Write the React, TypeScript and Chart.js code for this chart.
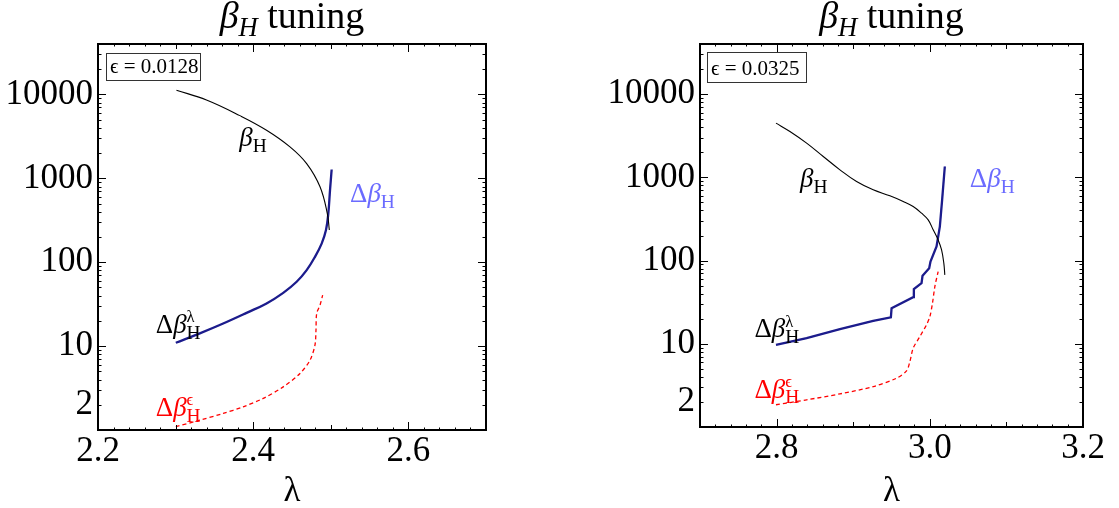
import React, { useEffect, useRef } from "react";
import { Chart, registerables } from "chart.js";

Chart.register(...registerables);

const SERIF = "'Liberation Serif', 'DejaVu Serif', 'Times New Roman', serif";

// ---------- Left panel (epsilon = 0.0128) ----------
const leftBetaHLambda = [2.3011, 2.3398, 2.3828, 2.4172, 2.4474, 2.4689, 2.4861, 2.4955, 2.4981];
const leftBetaHValue = [11250, 8600, 5600, 3750, 2375, 1500, 793, 381, 242];
const leftDeltaLamLambda = [2.3003, 2.3312, 2.3613, 2.3914, 2.4172, 2.4387, 2.456, 2.4689, 2.4796, 2.4882, 2.4938, 2.4968, 2.499, 2.5011];
const leftDeltaLamValue = [10.96, 14.2, 18.6, 24.9, 32.3, 43.2, 58.5, 80.5, 116, 167, 242, 381, 723, 1276];
const leftDeltaEpsLambda = [2.3003, 2.3312, 2.3613, 2.3871, 2.4129, 2.4387, 2.4603, 2.4732, 2.4796, 2.4809, 2.4818, 2.4861, 2.4895];
const leftDeltaEpsValue = [1.094, 1.31, 1.575, 1.89, 2.38, 3.27, 4.72, 6.8, 10.3, 15.5, 24.5, 30.8, 40.5];

// ---------- Right panel (epsilon = 0.0325) ----------
const rightBetaHLambda = [2.7992, 2.8174, 2.8392, 2.8609, 2.8827, 2.9044, 2.9261, 2.9479, 2.9653, 2.9783, 2.9892, 2.9979, 3.0044, 3.0109, 3.0153, 3.0183, 3.0196];
const rightBetaHValue = [4480, 3555, 2575, 1780, 1231, 891, 708, 600, 513, 446, 371, 308, 234, 177, 135, 93, 67.3];
const rightDeltaLamLambda = [2.7992, 2.8392, 2.8827, 2.9261, 2.9492, 2.9501, 2.9783, 2.9792, 2.9892, 2.9905, 2.9992, 3.0009, 3.0088, 3.0131, 3.0161, 3.0196];
const rightDeltaLamValue = [9.7, 11.7, 15.0, 18.8, 20.8, 26.8, 36.3, 45.3, 53.5, 65.5, 81, 97.3, 148, 256, 537, 1350];
const rightDeltaEpsLambda = [2.7992, 2.8392, 2.8827, 2.9261, 2.9566, 2.9696, 2.974, 2.9783, 2.987, 2.9957, 3.0001, 3.0035, 3.0066, 3.0109];
const rightDeltaEpsValue = [1.85, 2.12, 2.5, 3.06, 3.86, 4.72, 6.1, 8.85, 12.2, 16.9, 21.2, 30.8, 48.7, 73.8];

// ---------- Axes ----------
const yTickValues = [2, 10, 100, 1000, 10000];
const yMajorMarks = [1, 10, 100, 1000, 10000];
const yRange = [1, 40000];
const leftXTickValues = [2.2, 2.4, 2.6];
const rightXTickValues = [2.8, 3.0, 3.2];
const leftXRange = [2.2, 2.7];
const rightXRange = [2.7, 3.2];
const leftEpsilon = "0.0128";
const rightEpsilon = "0.0325";

type Seg = { t: string; it?: boolean; s?: number; dy?: number; stack?: boolean };

const titleSegs: Seg[] = [
  { t: "β", it: true },
  { t: "H", it: true, s: 0.7, dy: 0.22 },
  { t: " tuning" },
];
const betaSegs: Seg[] = [{ t: "β", it: true }, { t: "H", s: 0.72, dy: 0.22 }];
const deltaSegs: Seg[] = [{ t: "Δ" }, { t: "β", it: true }, { t: "H", s: 0.72, dy: 0.22 }];
const deltaLamSegs: Seg[] = [
  { t: "Δ" },
  { t: "β", it: true },
  { t: "H", s: 0.72, dy: 0.22 },
  { t: "λ", s: 0.62, dy: -0.4, stack: true },
];
const deltaEpsSegs: Seg[] = [
  { t: "Δ" },
  { t: "β", it: true },
  { t: "H", s: 0.72, dy: 0.22 },
  { t: "ϵ", s: 0.62, dy: -0.4, stack: true },
];

function layoutRich(ctx: CanvasRenderingContext2D, segs: Seg[], size: number, draw: boolean, x: number, y: number) {
  let cx = x;
  let prevStart = x;
  for (const seg of segs) {
    const fs = size * (seg.s ?? 1);
    ctx.font = `${seg.it ? "italic " : ""}${fs}px ${SERIF}`;
    const w = ctx.measureText(seg.t).width;
    const sx = seg.stack ? prevStart : cx;
    if (draw) ctx.fillText(seg.t, sx, y + (seg.dy ?? 0) * size);
    if (seg.stack) {
      cx = Math.max(cx, sx + w);
    } else {
      prevStart = sx;
      cx = sx + w;
    }
  }
  return cx - x;
}

function drawRich(ctx: CanvasRenderingContext2D, segs: Seg[], x: number, y: number, size: number, color: string, align = "left") {
  ctx.save();
  ctx.fillStyle = color;
  ctx.textAlign = "left";
  ctx.textBaseline = "alphabetic";
  let sx = x;
  if (align === "center") sx = x - layoutRich(ctx, segs, size, false, 0, 0) / 2;
  layoutRich(ctx, segs, size, true, sx, y);
  ctx.restore();
}

type LabelCfg = { segs: Seg[]; x: number; y: number; size: number; color: string };
type PanelCfg = {
  key: string;
  xRange: number[];
  xTicks: number[];
  eps: string;
  box: number[]; // dx, dy, w, h relative to chart area
  labels: LabelCfg[];
  titleY: number;
  xLabelY: number;
};

function makePanelPlugin(cfg: PanelCfg) {
  return {
    id: "panel" + cfg.key,
    afterDraw(chart: any) {
      const { ctx, chartArea: a } = chart;
      const xs = chart.scales.x;
      const ys = chart.scales.y;
      ctx.save();
      ctx.strokeStyle = "#000";
      ctx.lineWidth = 1;
      const vt = (v: number, len: number) => {
        const p = Math.round(xs.getPixelForValue(v)) + 0.5;
        ctx.beginPath();
        ctx.moveTo(p, a.bottom);
        ctx.lineTo(p, a.bottom - len);
        ctx.moveTo(p, a.top);
        ctx.lineTo(p, a.top + len);
        ctx.stroke();
      };
      const ht = (v: number, len: number) => {
        const p = Math.round(ys.getPixelForValue(v)) + 0.5;
        ctx.beginPath();
        ctx.moveTo(a.left, p);
        ctx.lineTo(a.left + len, p);
        ctx.moveTo(a.right, p);
        ctx.lineTo(a.right - len, p);
        ctx.stroke();
      };
      const [x0, x1] = cfg.xRange;
      for (let i = 0; ; i++) {
        const v = x0 + i * 0.02;
        if (v > x1 + 1e-9) break;
        vt(v, 2.5);
      }
      for (let i = 0; ; i++) {
        const v = x0 + i * 0.1;
        if (v > x1 + 1e-9) break;
        vt(v, 5);
      }
      cfg.xTicks.forEach((v) => vt(v, 8));
      for (let d = 0; d <= 4; d++) {
        for (let m = 2; m <= 9; m++) {
          const v = m * Math.pow(10, d);
          if (v < yRange[1]) ht(v, 3.5);
        }
      }
      yMajorMarks.forEach((v) => ht(v, 8));

      // frame
      ctx.lineWidth = 2;
      ctx.strokeRect(a.left, a.top, a.right - a.left, a.bottom - a.top);

      // epsilon box
      const [bx, by, bw, bh] = cfg.box;
      ctx.lineWidth = 1;
      ctx.strokeStyle = "#333";
      ctx.strokeRect(Math.round(a.left + bx) + 0.5, Math.round(a.top + by) + 0.5, bw, bh);
      ctx.fillStyle = "#000";
      ctx.font = `21px ${SERIF}`;
      ctx.textAlign = "left";
      ctx.textBaseline = "alphabetic";
      ctx.fillText("ϵ = " + cfg.eps, a.left + bx + 4, a.top + by + bh - 7);

      // curve labels
      cfg.labels.forEach((l) => {
        drawRich(ctx, l.segs, xs.getPixelForValue(l.x), ys.getPixelForValue(l.y), l.size, l.color);
      });

      // title and x label
      const cx = (a.left + a.right) / 2;
      drawRich(ctx, titleSegs, cx, cfg.titleY, 38, "#000", "center");
      ctx.fillStyle = "#000";
      ctx.font = `35px ${SERIF}`;
      ctx.textAlign = "center";
      ctx.fillText("λ", cx, cfg.xLabelY);
      ctx.restore();
    },
  };
}

function pts(xs: number[], ys: number[]) {
  return xs.map((x, i) => ({ x, y: ys[i] }));
}

type PanelProps = {
  left: number;
  width: number;
  yAxisWidth: number;
  xAxisHeight: number;
  rightPad: number;
  betaX: number[];
  betaY: number[];
  lamX: number[];
  lamY: number[];
  epsX: number[];
  epsY: number[];
  lamTension: number;
  cfg: PanelCfg;
};

function Panel(p: PanelProps) {
  const ref = useRef<HTMLCanvasElement>(null);
  useEffect(() => {
    if (!ref.current) return;
    const chart = new Chart(ref.current, {
      type: "scatter",
      data: {
        datasets: [
          {
            label: "betaH",
            data: pts(p.betaX, p.betaY),
            showLine: true,
            borderColor: "#000",
            borderWidth: 1.1,
            pointRadius: 0,
            tension: 0.4,
          },
          {
            label: "deltaLambda",
            data: pts(p.lamX, p.lamY),
            showLine: true,
            borderColor: "#1c1c8c",
            borderWidth: 2.3,
            pointRadius: 0,
            tension: p.lamTension,
          },
          {
            label: "deltaTotal",
            data: pts(p.lamX, p.lamY),
            showLine: true,
            borderColor: "#9a9aff",
            borderWidth: 1.2,
            borderDash: [4, 3],
            pointRadius: 0,
            tension: p.lamTension,
          },
          {
            label: "deltaEps",
            data: pts(p.epsX, p.epsY),
            showLine: true,
            borderColor: "#ff0000",
            borderWidth: 1.3,
            borderDash: [4, 3],
            pointRadius: 0,
            tension: 0.3,
          },
        ],
      },
      options: {
        animation: false,
        responsive: false,
        devicePixelRatio: 1,
        layout: { padding: { left: 0, right: p.rightPad, top: 44, bottom: 0 } },
        plugins: { legend: { display: false }, tooltip: { enabled: false } },
        scales: {
          x: {
            type: "linear",
            min: p.cfg.xRange[0],
            max: p.cfg.xRange[1],
            grid: { display: false, drawTicks: false },
            border: { display: false },
            afterBuildTicks: (s: any) => {
              s.ticks = p.cfg.xTicks.map((v) => ({ value: v }));
            },
            afterFit: (s: any) => {
              s.height = p.xAxisHeight;
            },
            ticks: {
              autoSkip: false,
              maxRotation: 0,
              padding: 1,
              color: "#000",
              font: { family: SERIF, size: 35 },
              callback: (v: any) => Number(v).toFixed(1),
            },
          },
          y: {
            type: "logarithmic",
            min: yRange[0],
            max: yRange[1],
            grid: { display: false, drawTicks: false },
            border: { display: false },
            afterBuildTicks: (s: any) => {
              s.ticks = yTickValues.map((v) => ({ value: v }));
            },
            afterFit: (s: any) => {
              s.width = p.yAxisWidth;
            },
            ticks: {
              autoSkip: false,
              padding: 5,
              color: "#000",
              font: { family: SERIF, size: 35 },
              callback: (v: any) => String(v),
            },
          },
        },
      },
      plugins: [makePanelPlugin(p.cfg)],
    } as any);
    return () => chart.destroy();
  }, []);
  return (
    <div style={{ position: "absolute", left: p.left, top: 0, width: p.width, height: 508 }}>
      <canvas ref={ref} width={p.width} height={508} style={{ display: "block" }} />
    </div>
  );
}

const leftCfg: PanelCfg = {
  key: "L",
  xRange: leftXRange,
  xTicks: leftXTickValues,
  eps: leftEpsilon,
  box: [8, 9, 94, 27],
  titleY: 28,
  xLabelY: 501,
  labels: [
    { segs: betaSegs, x: 2.382, y: 2420, size: 27, color: "#000" },
    { segs: deltaSegs, x: 2.5248, y: 520, size: 27, color: "#6b6bff" },
    { segs: deltaLamSegs, x: 2.2745, y: 14.4, size: 27, color: "#000" },
    { segs: deltaEpsSegs, x: 2.2745, y: 1.47, size: 27, color: "#ff0000" },
  ],
};

const rightCfg: PanelCfg = {
  key: "R",
  xRange: rightXRange,
  xTicks: rightXTickValues,
  eps: rightEpsilon,
  box: [7, 8, 99, 30],
  titleY: 28,
  xLabelY: 501,
  labels: [
    { segs: betaSegs, x: 2.8305, y: 774, size: 27, color: "#000" },
    { segs: deltaSegs, x: 3.0523, y: 774, size: 27, color: "#6b6bff" },
    { segs: deltaLamSegs, x: 2.771, y: 11.9, size: 27, color: "#000" },
    { segs: deltaEpsSegs, x: 2.771, y: 2.26, size: 27, color: "#ff0000" },
  ],
};

export default function App() {
  return (
    <div style={{ position: "absolute", left: 0, top: 0, width: 1119, height: 508, background: "#fff", overflow: "hidden" }}>
      <Panel
        left={0}
        width={560}
        yAxisWidth={98}
        xAxisHeight={78}
        rightPad={74}
        betaX={leftBetaHLambda}
        betaY={leftBetaHValue}
        lamX={leftDeltaLamLambda}
        lamY={leftDeltaLamValue}
        epsX={leftDeltaEpsLambda}
        epsY={leftDeltaEpsValue}
        lamTension={0.4}
        cfg={leftCfg}
      />
      <Panel
        left={560}
        width={559}
        yAxisWidth={140}
        xAxisHeight={81}
        rightPad={36}
        betaX={rightBetaHLambda}
        betaY={rightBetaHValue}
        lamX={rightDeltaLamLambda}
        lamY={rightDeltaLamValue}
        epsX={rightDeltaEpsLambda}
        epsY={rightDeltaEpsValue}
        lamTension={0}
        cfg={rightCfg}
      />
    </div>
  );
}
